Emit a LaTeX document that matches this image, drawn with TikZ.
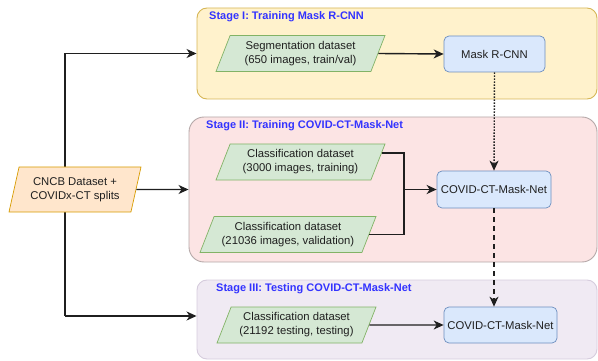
\documentclass[tikz,border=0pt]{standalone}
\usepackage{fontspec}
\setmainfont{Liberation Sans}
\usetikzlibrary{shapes.geometric,arrows.meta,calc}

\definecolor{yelfill}{HTML}{FFF2CC}
\definecolor{yelline}{HTML}{D6B656}
\definecolor{redfill}{HTML}{FCE4E4}
\definecolor{redline}{HTML}{B5A8A8}
\definecolor{purfill}{HTML}{F0EAF3}
\definecolor{purline}{HTML}{D6CCDD}
\definecolor{grnfill}{HTML}{D5E8D4}
\definecolor{grnline}{HTML}{82B366}
\definecolor{blufill}{HTML}{DAE8FC}
\definecolor{bluline}{HTML}{6C8EBF}
\definecolor{orgfill}{HTML}{FFE6CC}
\definecolor{orgline}{HTML}{D79B00}
\definecolor{stagetxt}{HTML}{3333FF}

\tikzset{
  txt/.style={font=\fontsize{11.3}{14}\selectfont, align=center, text=black!88},
  stagebox/.style={rectangle, rounded corners=10pt, line width=0.9pt, inner sep=0pt},
  stagelabel/.style={anchor=west, font=\bfseries\fontsize{11}{13}\selectfont, text=stagetxt, inner sep=0pt},
  dataset/.style={txt, trapezium, trapezium left angle=62, trapezium right angle=118,
    trapezium stretches body, fill=grnfill, draw=grnline, line width=0.7pt,
    minimum height=36pt, inner sep=1pt},
  netbox/.style={txt, rectangle, rounded corners=5pt, fill=blufill, draw=bluline,
    line width=0.7pt, minimum height=36pt, inner sep=1pt},
  arr/.style={line width=1.4pt, draw=black!88, -{Stealth[length=10pt,width=9pt,inset=3pt]}},
  wire/.style={line width=1.4pt, draw=black!88},
}

\begin{document}
\begin{tikzpicture}[x=1pt,y=-1pt]
\useasboundingbox (0,0) rectangle (598,361);

% stage containers
\node[stagebox, fill=yelfill, draw=yelline, minimum width=400pt, minimum height=91pt]
  (st1) at (397,53.5) {};
\node[stagebox, rounded corners=15pt, fill=redfill, draw=redline, minimum width=408pt, minimum height=145pt]
  (st2) at (393,189.5) {};
\node[stagebox, fill=purfill, draw=purline, minimum width=400pt, minimum height=79pt]
  (st3) at (397,319.5) {};

\node[stagelabel] (l1) at (209,17) {Stage I: Training Mask R-CNN};
\node[stagelabel] (l2) at (206,126) {Stage II: Training COVID-CT-Mask-Net};
\node[stagelabel] (l3) at (216,289) {Stage III: Testing COVID-CT-Mask-Net};

% trunk from the source data to stages I and III (runs behind the source node)
\coordinate (t1) at (65,53.5);
\coordinate (t3) at (65,316);
\draw[wire] (t1) -- (t3);
\draw[arr] (t1) -- (st1.west);
\draw[arr] (t3) -- (t3 -| st3.west);

% source data
\node[txt, trapezium, trapezium left angle=69, trapezium right angle=111,
  trapezium stretches body, fill=orgfill, draw=orgline, line width=0.7pt,
  minimum width=132pt, minimum height=45pt, inner sep=1pt]
  (cncb) at (75,189.5) {CNCB Dataset +\\COVIDx-CT splits};
\draw[arr] (cncb.east) -- (st2.west);

% datasets
\node[dataset, minimum width=169pt] (seg) at (300.5,53.5) {Segmentation dataset\\(650 images, train/val)};
\node[dataset, minimum width=169pt] (c1) at (300.5,162) {Classification dataset\\(3000 images, training)};
\node[dataset, minimum width=176pt] (c2) at (288,234.5) {Classification dataset\\(21036 images, validation)};
\node[dataset, minimum width=159pt] (c3) at (296.5,325) {Classification dataset\\(21192 testing, testing)};

% networks
\node[netbox, minimum width=101pt] (mrcnn) at (494.5,54) {Mask R-CNN};
\node[netbox, minimum width=114pt, minimum height=37pt] (cov2) at (494,189.5) {COVID-CT-Mask-Net};
\node[netbox, minimum width=113pt] (cov3) at (500.5,325) {COVID-CT-Mask-Net};

% stage I
\draw[arr] (seg.east) -- (mrcnn.west);

% stage II merge
\coordinate (c1out) at ($(c1.top right corner)!0.25!(c1.bottom right corner)$);
\coordinate (mj) at (404,189.5);
\draw[wire] (c1out) -| (mj);
\draw[wire] (c2.east) -| (mj);
\draw[arr, line width=1.7pt] (mj) -- (cov2.west);

% stage III
\draw[arr] (c3.east) -- (cov3.west);

% hand-over between stages
\draw[arr, dash pattern=on 1.5pt off 1.5pt] (mrcnn.south) -- (cov2.north);
\draw[arr, dash pattern=on 5pt off 4pt] (cov2.south) -- (cov2.south |- cov3.north);
\end{tikzpicture}
\end{document}
